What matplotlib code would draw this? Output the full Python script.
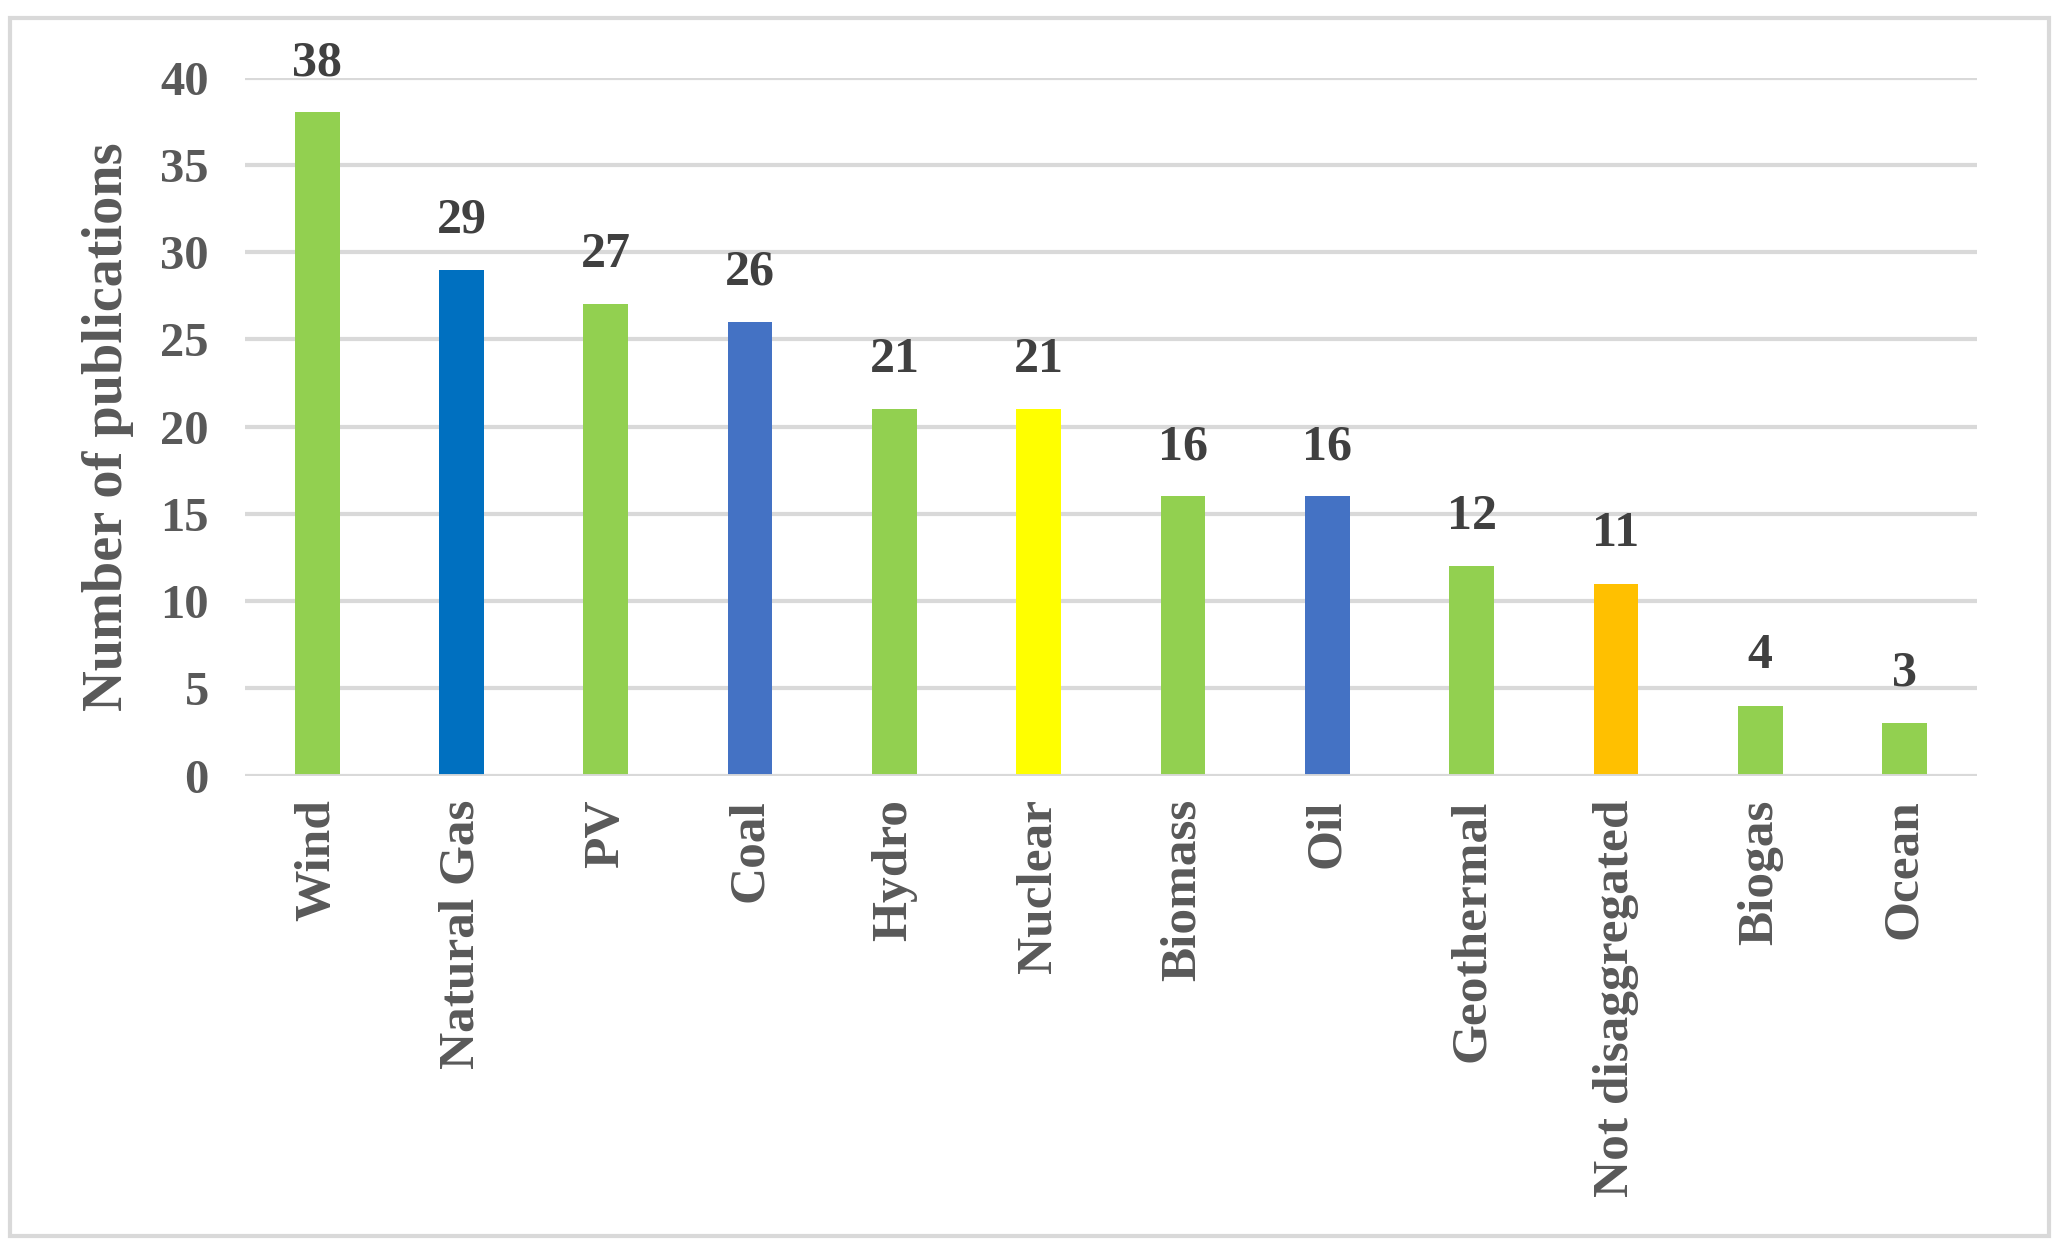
import matplotlib
matplotlib.use("Agg")
import matplotlib.pyplot as plt
from matplotlib.patches import Rectangle

categories = ["Wind", "Natural Gas", "PV", "Coal", "Hydro", "Nuclear",
              "Biomass", "Oil", "Geothermal", "Not disaggregated", "Biogas", "Ocean"]
counts = [38, 29, 27, 26, 21, 21, 16, 16, 12, 11, 4, 3]
colors = ["#92D050", "#0070C0", "#92D050", "#4472C4", "#92D050", "#FFFF00",
          "#92D050", "#4472C4", "#92D050", "#FFC000", "#92D050", "#92D050"]
yticks = [0, 5, 10, 15, 20, 25, 30, 35, 40]


def main():
    plt.rcParams['font.family'] = ['Liberation Serif', 'DejaVu Serif']
    plt.rcParams['font.weight'] = 'bold'

    fig = plt.figure(figsize=(20.59, 12.51), dpi=100)
    ax = fig.add_axes([0.119, 0.380, 0.841, 0.558])

    x = range(len(categories))
    bars = ax.bar(x, counts, width=0.31, color=colors, zorder=3)

    for b, v in zip(bars, counts):
        ax.annotate(str(v), (b.get_x() + b.get_width() / 2, v),
                    xytext=(0, 19), textcoords="offset points",
                    ha="center", va="bottom", fontsize=36,
                    fontweight="bold", color="#404040")

    ax.set_xlim(-0.5, len(categories) - 0.5)
    ax.set_ylim(0, 40)
    ax.set_yticks(yticks)
    ax.set_yticklabels([str(t) for t in yticks], fontsize=35,
                       fontweight="bold", color="#595959")
    ax.set_xticks(list(x))
    ax.set_xticklabels(categories, rotation=90, fontsize=37,
                       fontweight="bold", color="#595959", va="top")
    ax.tick_params(axis="both", length=0)
    ax.tick_params(axis="x", pad=17)
    ax.tick_params(axis="y", pad=26)

    ax.grid(axis="y", color="#D9D9D9", linewidth=3, zorder=0)
    for s in ax.spines.values():
        s.set_visible(False)
    ax.axhline(0, color="#D9D9D9", linewidth=3.5, zorder=4)

    ax.set_ylabel("Number of publications", fontsize=40.5,
                  fontweight="bold", color="#595959", labelpad=19)

    fig.patches.append(Rectangle((0.005, 0.012), 0.99, 0.974,
                                 transform=fig.transFigure, fill=False,
                                 edgecolor="#D9D9D9", linewidth=3))

    fig.savefig("out.png", dpi=100)


if __name__ == "__main__":
    main()
